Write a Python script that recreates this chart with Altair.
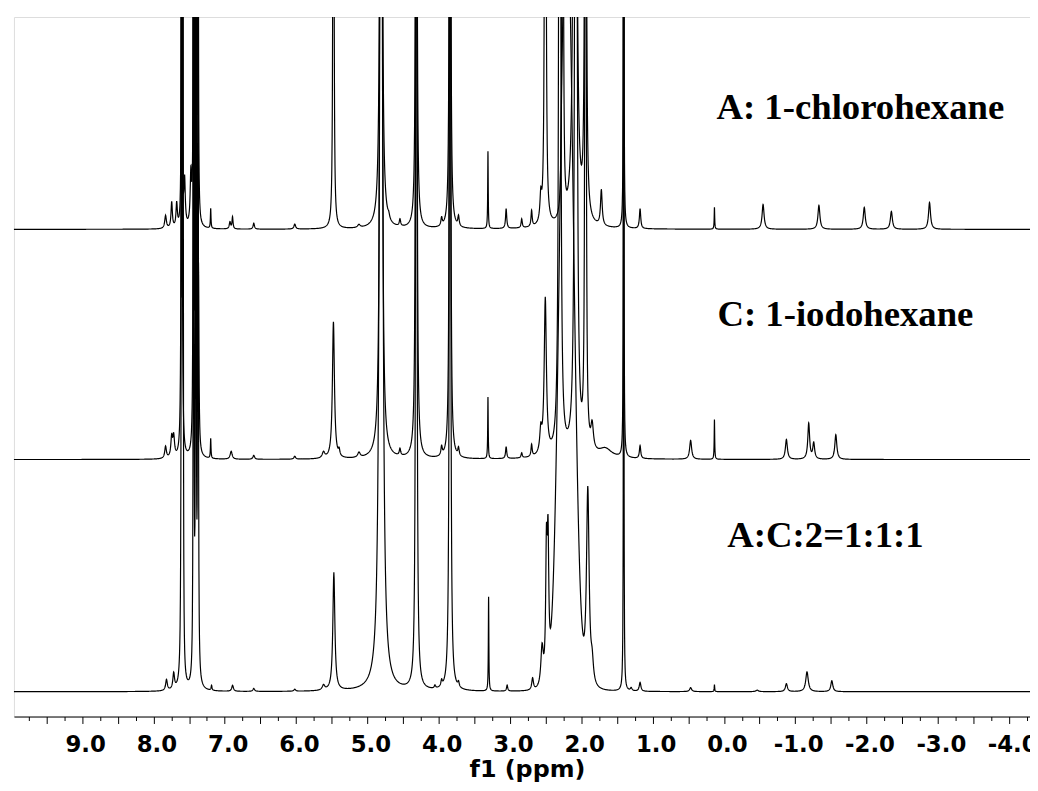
import numpy as np
import pandas as pd
import altair as alt

alt.data_transformers.disable_max_rows()

# ---------------- data ----------------
# x axis (ppm), labels every 1.0, ticks every 0.25
axis_labels = [9.0, 8.0, 7.0, 6.0, 5.0, 4.0, 3.0, 2.0, 1.0, 0.0, -1.0, -2.0, -3.0, -4.0]
tick_values = [9.75 - 0.25 * i for i in range(57)]
x_domain = [9.956, -4.292]

annotations = ["A: 1-chlorohexane", "C: 1-iodohexane", "A:C:2=1:1:1"]

# spectrum A (1-chlorohexane): peak position (ppm), height (px units), half width (ppm)
A_ppm = [7.830, 7.744, 7.674, 7.604, 7.563, 7.475, 7.437, 7.405, 7.375, 7.197,
         6.927, 6.891, 6.593, 6.018, 5.476, 5.118, 4.808, 4.701, 4.543, 4.314,
         3.959, 3.841, 3.722, 3.309, 3.054, 2.836, 2.697, 2.568, 2.505, 2.261,
         2.088, 1.941, 1.719, 1.406, 1.176, 0.133, -0.549, -1.332, -1.968, -2.348,
         -2.883]
A_height = [13, 26, 24, 2000, 45, 50, 2000, 2000, 2000, 20,
            7, 12, 6, 5, 2000, 3, 2000, 4, 7, 2000,
            8, 2000, 10, 78, 20, 9, 16, 25, 2000, 2000,
            2000, 2000, 36, 2000, 20, 22, 25, 24, 22, 18,
            27]
A_hwhm = [0.0139, 0.0111, 0.0111, 0.0025, 0.0111, 0.0111, 0.0025, 0.0025, 0.0025, 0.0049,
          0.0111, 0.0083, 0.0111, 0.0139, 0.0040, 0.0209, 0.0090, 0.0139, 0.0111, 0.0056,
          0.0111, 0.0053, 0.0111, 0.0042, 0.0097, 0.0097, 0.0097, 0.0139, 0.0056, 0.0047,
          0.0128, 0.0063, 0.0139, 0.0022, 0.0111, 0.0042, 0.0167, 0.0167, 0.0167, 0.0167,
          0.0167]

# spectrum C (1-iodohexane)
C_ppm = [7.830, 7.744, 7.716, 7.604, 7.437, 7.405, 7.368, 7.197, 6.910, 6.593,
         6.018, 5.615, 5.476, 5.396, 5.118, 4.808, 4.543, 4.314, 3.959, 3.841,
         3.722, 3.309, 3.054, 2.836, 2.697, 2.568, 2.505, 2.303, 2.076, 1.941,
         1.848, 1.663, 1.406, 1.176, 0.467, 0.133, -0.876, -1.189, -1.259, -1.569]
C_height = [12, 20, 20, 2000, 2000, 2000, 180, 20, 8, 4,
            3, 6, 138, 6, 5, 2000, 7, 2000, 9, 2000,
            8, 62, 12, 5, 12, 22, 157, 2000, 2000, 2000,
            25, 9, 2000, 13, 19, 40, 20, 36, 16, 25]
C_hwhm = [0.0139, 0.0139, 0.0139, 0.0038, 0.0031, 0.0031, 0.0070, 0.0049, 0.0167, 0.0139,
          0.0139, 0.0209, 0.0167, 0.0111, 0.0209, 0.0100, 0.0111, 0.0063, 0.0111, 0.0056,
          0.0111, 0.0042, 0.0097, 0.0097, 0.0097, 0.0167, 0.0181, 0.0088, 0.0106, 0.0056,
          0.0209, 0.1110, 0.0022, 0.0111, 0.0167, 0.0042, 0.0167, 0.0153, 0.0153, 0.0167]

# spectrum mixture A:C:2 = 1:1:1
M_ppm = [7.817, 7.716, 7.604, 7.585, 7.437, 7.405, 7.375, 7.185, 6.890, 6.593,
         6.018, 5.615, 5.470, 4.808, 4.314, 4.052, 3.959, 3.841, 3.722, 3.300,
         3.040, 2.683, 2.550, 2.489, 2.467, 1.909, 1.848, 1.406, 1.300, 1.176,
         0.467, 0.133, -0.466, -0.876, -1.165, -1.513]
M_height = [11, 16, 2000, 2000, 2000, 2000, 2000, 5, 6, 3,
            2, 5, 119, 2000, 2000, 3, 6, 2000, 5, 95,
            6, 12, 40, 125, 130, 200, 20, 2000, 3, 9,
            4, 7, 1.5, 8, 20, 11]
M_hwhm = [0.0139, 0.0139, 0.0038, 0.0025, 0.0031, 0.0031, 0.0031, 0.0070, 0.0139, 0.0139,
          0.0139, 0.0209, 0.0167, 0.0156, 0.0063, 0.0111, 0.0111, 0.0063, 0.0111, 0.0042,
          0.0097, 0.0139, 0.0209, 0.0125, 0.0125, 0.0223, 0.0209, 0.0022, 0.0139, 0.0139,
          0.0167, 0.0042, 0.0209, 0.0167, 0.0209, 0.0167]
# broad (gaussian-shaped) signal of the mixture
M_broad_ppm = [2.206]
M_broad_height = [800]
M_broad_sigma = [0.093]

series_names = ["A: 1-chlorohexane", "C: 1-iodohexane", "A:C:2=1:1:1"]
series_offset = [491, 259, 25]   # vertical stacking of the traces


# ---------------- build line data from the peak lists ----------------
def trace(ppm, height, hwhm, g_ppm=(), g_h=(), g_s=()):
    x = np.arange(-4.35, 10.0, 0.004)
    extra = [x]
    steps = np.array([0.25, 0.5, 1, 1.5, 2, 3, 4, 6, 10])
    for p, w in zip(ppm, hwhm):
        extra.append(np.concatenate([[p], p + steps * w, p - steps * w]))
    x = np.unique(np.round(np.concatenate(extra), 5))
    y = np.zeros_like(x)
    for p, h, w in zip(ppm, height, hwhm):
        y += h * w * w / ((x - p) ** 2 + w * w)
    for p, h, s in zip(g_ppm, g_h, g_s):
        y += h * np.exp(-((x - p) ** 2) / (2 * s * s))
    return x, y


frames = []
specs = [
    (A_ppm, A_height, A_hwhm, (), (), ()),
    (C_ppm, C_height, C_hwhm, (), (), ()),
    (M_ppm, M_height, M_hwhm, M_broad_ppm, M_broad_height, M_broad_sigma),
]
for name, off, sp in zip(series_names, series_offset, specs):
    x, y = trace(*sp)
    frames.append(pd.DataFrame({"ppm": np.round(x, 5), "I": np.round(y + off, 2), "s": name}))
data = pd.concat(frames, ignore_index=True)

PLOT_W, PLOT_H = 1024, 705

x_axis = alt.Axis(
    values=tick_values,
    labelExpr=("datum.value % 1 == 0 ? (datum.value < 0 ? '-' + format(-datum.value, '.1f') "
               ": format(datum.value, '.1f')) : ''"),
    tickSize={"condition": {"test": "datum.value % 0.5 == 0", "value": 7}, "value": 4},
    tickColor="black",
    tickWidth=1,
    domainColor="black",
    domainWidth=1,
    grid=False,
    labelFont="DejaVu Sans",
    labelFontWeight="bold",
    labelFontSize=23,
    labelColor="black",
    labelOverlap=False,
    labelFlush=False,
    labelOffset=3,
    labelPadding=10,
    title="f1 (ppm)",
    titleFont="DejaVu Sans",
    titleFontWeight="bold",
    titleFontSize=24,
    titleColor="black",
    titlePadding=1,
    titleX=517,
)

lines = alt.Chart(data).mark_line(clip=True, color="black", strokeWidth=1.2).encode(
    x=alt.X("ppm:Q", scale=alt.Scale(domain=x_domain, nice=False, zero=False), axis=x_axis),
    y=alt.Y("I:Q", scale=alt.Scale(domain=[0, PLOT_H], nice=False, zero=False), axis=None),
    detail="s:N",
)

text_pos = [(708, 103), (709, 311), (719, 534)]
texts = []
for label, (tx, ty) in zip(annotations, text_pos):
    texts.append(
        alt.Chart(pd.DataFrame({"t": [label]})).mark_text(
            align="left", baseline="alphabetic", font="Liberation Serif",
            fontWeight="bold", fontSize=37, color="black"
        ).encode(x=alt.value(tx), y=alt.value(ty), text="t:N")
    )

chart = alt.layer(lines, *texts).properties(
    width=PLOT_W,
    height=PLOT_H,
    padding={"left": 6, "top": 6, "right": 0, "bottom": 76},
    autosize=alt.AutoSizeParams(type="none"),
).configure_view(strokeWidth=0).configure(background="white")

chart.save("out.html", embed_options={"renderer": "svg", "actions": False})
